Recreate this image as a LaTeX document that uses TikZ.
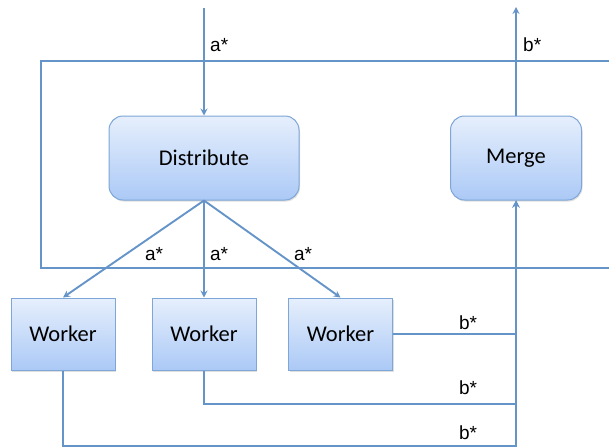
\documentclass[tikz,border=0pt]{standalone}
\usepackage{fontspec}
\setmainfont{Carlito}
\newfontfamily\lblfont{Liberation Sans}
\usetikzlibrary{arrows.meta,shadows}
\definecolor{ln}{HTML}{6594C8}
\definecolor{bd}{HTML}{7EA6D7}
\definecolor{ftop}{HTML}{E6EFFC}
\definecolor{fbot}{HTML}{ABC9F6}
\tikzset{
  box/.style={draw=bd, line width=1pt, top color=ftop, bottom color=fbot,
    font=\fontsize{22.5}{26}\selectfont, inner sep=0pt,
    drop shadow={shadow xshift=1pt, shadow yshift=-1.5pt, opacity=0.25}},
  rbox/.style={box, rounded corners=14pt, minimum height=84pt},
  wbox/.style={box, minimum width=104pt, minimum height=72pt},
  conn/.style={draw=ln, line width=1.9pt},
  arr/.style={conn, -{Stealth[length=7pt,width=7pt,inset=2.5pt]}},
  lbl/.style={font=\lblfont\fontsize{19}{22}\selectfont, inner sep=0pt, text=black}
}
\begin{document}
\begin{tikzpicture}[x=1pt,y=-1pt]
\useasboundingbox (0,0) rectangle (609,447);
% outer frame
\draw[conn] (609,61) -- (41,61) -- (41,268) -- (609,268);
% nodes
\node[rbox, minimum width=190pt] (dist) at (204,158) {Distribute};
\node[rbox, minimum width=131pt] (merge) at (516,158) {Merge};
\node[wbox] (w1) at (63,334) {Worker};
\node[wbox] (w2) at (204,334) {Worker};
\node[wbox] (w3) at (340.5,334) {Worker};
\coordinate (in) at (204,8);
\coordinate (out) at (516,7);
\coordinate (j2) at (516,404);
\coordinate (j1) at (516,446);
% connectors
\draw[arr] (in) -- (dist.north);
\draw[arr] (merge.north) -- (out);
\draw[arr] (dist.south) -- (w1.north);
\draw[arr] (dist.south) -- (w2.north);
\draw[arr] (dist.south) -- (w3.north);
\draw[arr] (w3.east) -| (merge.south);
\draw[arr] (w2.south) |- (j2) -- (merge.south);
\draw[arr] (w1.south) |- (j1) -- (merge.south);
% labels
\node[lbl, anchor=west] (la0) at (210,45) {a*};
\node[lbl, anchor=west] (lb0) at (523,45) {b*};
\node[lbl] (la1) at (154,254) {a*};
\node[lbl] (la2) at (219,254) {a*};
\node[lbl] (la3) at (303,254) {a*};
\node[lbl] (lb1) at (468,323) {b*};
\node[lbl] (lb2) at (468,388) {b*};
\node[lbl] (lb3) at (468,433) {b*};
\end{tikzpicture}
\end{document}
